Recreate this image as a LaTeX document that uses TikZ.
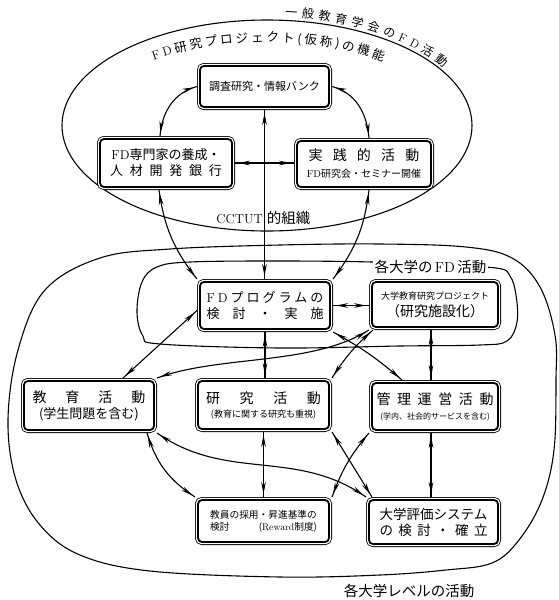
\documentclass[tikz,border=0pt]{standalone}
\usepackage{fontspec}
\newfontfamily\cjk{Noto Sans CJK JP}
\usetikzlibrary{arrows.meta}
\usetikzlibrary{decorations.markings, decorations.text}

\newcommand\jsize[2]{\fontsize{#1}{#2}\selectfont}
\newcommand\arcfont{\fontsize{12.5}{14}\selectfont}
\newcommand\outerfont{\fontsize{12}{14}\selectfont}

\tikzset{
  box/.style={draw, fill=white, rounded corners=4pt, line width=1.8pt, font=\cjk, align=center,
    inner sep=1pt, outer sep=3pt, minimum width=130pt, minimum height=47pt,
    preaction={draw, line width=6pt}, preaction={draw, white, line width=4.4pt}},
  linegap/.style={font=\cjk\fontsize{10}{#1}\selectfont},
  twoway/.style={decoration={markings,
      mark=at position 3pt with {\arrowreversed{Stealth[length=12pt, width=4.6pt]}},
      mark=at position -3pt with {\arrow{Stealth[length=12pt, width=4.6pt]}}},
    postaction={decorate}},
}

\begin{document}
\begin{tikzpicture}[x=1pt, y=1pt, line width=1.1pt]
\useasboundingbox (0,0) rectangle (559,-600);

\draw (267,-125.5) ellipse [x radius=205, y radius=105.5];
\path[decorate, decoration={text along path, text align={fit to path},
    text={|\rmfamily\arcfont|FD|\cjk\arcfont|研究プロジェクト(仮称)の機能}}]
  (267,-128) ++(128:184 and 86) arc[start angle=128, end angle=51, x radius=184, y radius=86];
\path[decorate, decoration={text along path, text align={fit to path},
    text={|\cjk\outerfont|一般教育学会の|\rmfamily\outerfont|FD|\cjk\outerfont|活動}}]
  (267,-125.5) ++(85:209 and 109) arc[start angle=85, end angle=32, x radius=209, y radius=109];

\draw plot[smooth cycle, tension=0.6] coordinates {(280,-245) (170,-249) (100,-258) (45,-290)
  (18,-350) (8,-420) (16,-480) (40,-525) (80,-555) (150,-571) (280,-577) (380,-575) (446,-570)
  (492,-563) (519,-540) (542,-500) (554,-450) (556,-380) (555,-335) (540,-287) (512,-258)
  (466,-247) (380,-244)};
\draw plot[smooth cycle, tension=0.6] coordinates {(372,-262) (280,-261) (190,-262) (157,-267)
  (142,-282) (137,-312) (143,-336) (160,-344) (280,-348) (400,-346) (480,-345) (507,-341)
  (517,-322) (516,-295) (510,-276) (496,-268) (430,-265)};

\node[box, minimum width=129pt, minimum height=41pt] (bank) at (264.5,-86.5)
  {\jsize{11}{13}調査研究・情報バンク};
\node[box, linegap=16, minimum width=132pt, minimum height=48pt] (expert) at (166,-163)
  {{\jsize{13}{16}\textrm{FD}専門家の養成・}\\{\jsize{13}{16}\makebox[112pt][s]{人 材 開 発 銀 行}}};
\node[box, linegap=17, minimum width=134pt, minimum height=46pt] (practice) at (364,-164)
  {{\jsize{14}{17}\makebox[111pt][s]{実 践 的 活 動}}\\{\jsize{10}{12}\textrm{FD}研究会・セミナー開催}};
\node (cctut) at (263.4,-218) {{\jsize{13}{15}CCTUT}\hspace{4pt}{\cjk\jsize{14.5}{15}的組織}};

\node[fill=white, inner sep=2pt] (fdlabel) at (430.5,-267)
  {\cjk\jsize{14.5}{16}各大学の\,\textrm{FD}\,活動};
\node[box, linegap=16] (FDprog) at (265,-305.5)
  {{\jsize{13}{16}\makebox[117pt][s]{\textrm{F} \textrm{D} プ ロ グ ラ ム の}}\\{\jsize{13}{16}\makebox[117pt][s]{検 討 ・ 実 施}}};
\node[box, linegap=17, minimum width=126pt, minimum height=45pt] (resproj) at (435,-304.5)
  {{\jsize{9}{11}大学教育研究プロジェクト}\\{\jsize{14}{17}（研究施設化）}};

\node[box, linegap=16, minimum height=49pt] (edu) at (89,-405.5)
  {{\jsize{14}{17}\makebox[113pt][s]{教 育 活 動}}\\{\jsize{13}{16}(学生問題を含む)}};
\node[box, linegap=14, minimum width=131pt, minimum height=48pt] (research) at (263.5,-405)
  {{\jsize{14}{17}\makebox[115pt][s]{研 究 活 動}}\\{\jsize{9}{11}(教育に関する研究も重視)}};
\node[box, linegap=15, minimum width=126pt] (mgmt) at (435,-406.5)
  {{\jsize{14}{17}\makebox[117pt][s]{管 理 運 営 活 動}}\\{\jsize{8}{10}(学内、社会的サービスを含む)}};

\node[box, linegap=12, minimum width=131pt, minimum height=42pt] (faculty) at (263.5,-521)
  {{\jsize{9.7}{12}教員の採用・昇進基準の}\\{\jsize{9.7}{12}\makebox[107pt]{検討\hfill(\textrm{Reward}制度)}}};
\node[box, linegap=16, minimum width=129pt, minimum height=44pt] (eval) at (433.5,-522)
  {{\jsize{13.5}{16}大学評価システム}\\{\jsize{13.5}{16}\makebox[108pt][s]{の 検 討 ・ 確 立}}};
\node (levellabel) at (409,-591) {\cjk\jsize{14.5}{16}各大学レベルの活動};

\draw[twoway] (bank.west) to[out=195, in=85] ([xshift=-6pt]expert.north);
\draw[twoway] (bank.east) to[out=-15, in=95] ([xshift=5pt]practice.north);
\foreach \a/\b in {bank/FDprog, FDprog/research, research/faculty}
  \draw[twoway] (\a.south) -- (\a.south |- \b.north);
\foreach \a/\b in {resproj/mgmt, mgmt/eval}
  \draw[twoway] ([xshift=-4pt]\a.south) -- ([xshift=-4pt]\a.south |- \b.north);
\draw[twoway] (expert.east) -- (expert.east -| practice.west);
\draw[twoway] (FDprog.east) -- (FDprog.east -| resproj.west);
\draw[twoway] ([xshift=-7pt]expert.south) to[bend right=15] (FDprog.north west);
\draw[twoway] ([xshift=5pt]practice.south) to[bend left=15] (FDprog.north east);
\draw[twoway] ([yshift=-5pt]FDprog.west) -- ([xshift=34pt]edu.north);
\draw[twoway] (resproj.south west) to[out=212, in=20, looseness=0.8] (edu.north east);
\draw[twoway] ([xshift=4pt]resproj.south west) to[bend right=8] (research.north east);
\draw[twoway] (FDprog.south east) to[bend left=6] ([xshift=-33pt]mgmt.north);
\draw[twoway] ([xshift=58pt]edu.south) to[bend right=20] (faculty.north west);
\draw[twoway] (edu.south east) to[out=-35, in=145] (eval.north west);
\draw[twoway] (research.south east) -- ([xshift=6pt]eval.north west);
\draw[twoway] (mgmt.south west) to[bend right=10] (faculty.north east);
\end{tikzpicture}
\end{document}
